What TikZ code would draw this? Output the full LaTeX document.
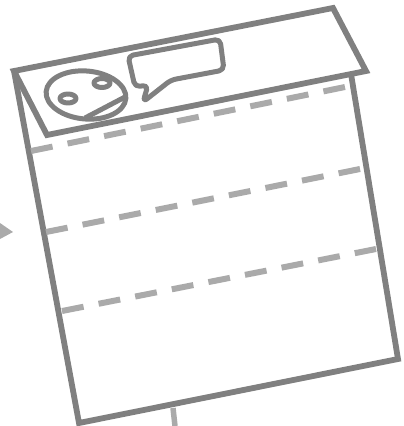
\documentclass[tikz,border=0pt]{standalone}
\usetikzlibrary{calc}

\definecolor{sheetgray}{HTML}{808080}
\definecolor{foldgray}{HTML}{AAAAAA}

\begin{document}
\begin{tikzpicture}[x=1pt,y=-1pt]
\tikzset{
  sheetline/.style={draw=sheetgray,line width=5.8pt,line join=miter},
  faceline/.style={draw=sheetgray,line width=5pt,line join=round},
  foldline/.style={draw=foldgray,line width=6pt,dash pattern=on 22pt off 15.3pt}
}
\useasboundingbox (0,0) rectangle (404,426);
\coordinate (flap_tl) at (14,71);
\coordinate (flap_tr) at (333,8);
\coordinate (flap_br) at (366,71);
\coordinate (flap_bl) at (47,135);
\coordinate (body_tr) at (351,74);
\coordinate (body_br) at (398,359);
\coordinate (body_bl) at (79,423);
% page and flap
\draw[sheetline] (flap_bl) -- (flap_tl) -- (flap_tr) -- (flap_br) -- cycle;
\draw[sheetline] (flap_tl) -- (body_bl) -- (body_br) -- (body_tr);
% fold lines
\draw[foldline] (31,151) -- (345,87);
\draw[foldline] (46,232) -- (360,169);
\draw[foldline] (62,311) -- (376,249);
% incoming and outgoing marks
\fill[foldgray] (13,232) -- (0,223) -- (0,239) -- cycle;
\draw[draw=foldgray,line width=5.5pt] (173,408) -- (175,426);
% face
\draw[faceline,rotate around={-5:(86,95)}] (86,95) ellipse [x radius=40,y radius=24];
\draw[faceline] (68,98.5) ellipse [x radius=8,y radius=4.5];
\draw[faceline] (102,83) ellipse [x radius=8,y radius=4.5];
\draw[faceline] (85,118) -- (125,97);
% speech bubble
\draw[faceline,rounded corners=5pt] (128,56) -- (220,39) -- (224,70) -- (171,80) -- (143,102) -- (148,85) -- (135,87) -- cycle;
\end{tikzpicture}
\end{document}
